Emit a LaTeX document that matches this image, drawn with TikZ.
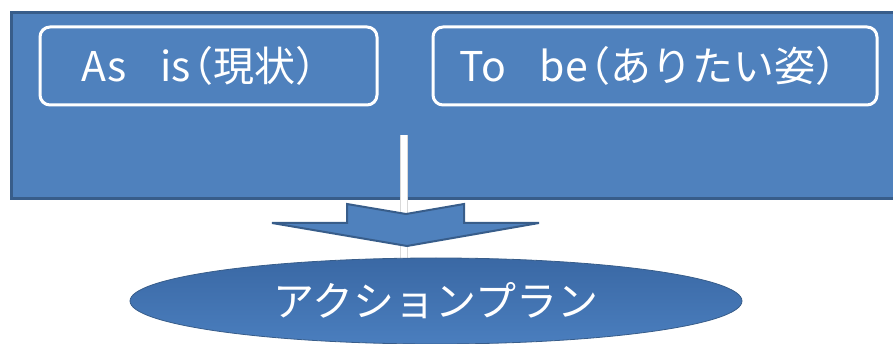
\documentclass[tikz,border=0pt]{standalone}
\usepackage{fontspec}
\setmainfont{Noto Sans CJK JP}
\usetikzlibrary{shapes.geometric}
\definecolor{fillblue}{HTML}{4F81BD}
\definecolor{edgeblue}{HTML}{385D8A}
\definecolor{elltop}{HTML}{3A68A4}
\definecolor{ellbot}{HTML}{4A7EBE}
\newcommand{\lparen}{\kern-0.45em（}
\tikzset{
  panel/.style={draw=edgeblue, fill=fillblue, line width=3pt},
  labelbox/.style={draw=white, line width=3pt, rounded corners=10pt, fill=fillblue,
    text=white, font=\fontsize{41}{50}\selectfont, inner sep=0pt, anchor=center},
  planell/.style={ellipse, inner sep=0pt, minimum width=612pt, minimum height=86pt,
    top color=elltop, bottom color=ellbot, draw=edgeblue, line width=0.8pt,
    text=white, font=\fontsize{41}{48}\selectfont},
  bigarrow/.style={fill=fillblue, draw=edgeblue, line width=2pt, line join=miter},
  whiteline/.style={draw=white, line width=5.5pt},
  greyline/.style={draw=black!15, line width=7.5pt}
}
\begin{document}
\begin{tikzpicture}[x=1pt, y=-1pt]
\useasboundingbox (0,0) rectangle (893,344);
\clip (0,0) rectangle (893,344);
% panel
\node[panel, minimum width=890pt, minimum height=186pt, inner sep=0pt, anchor=north west] (panel) at (10,11) {};
% label boxes
\node[labelbox, minimum width=337pt, minimum height=78pt] (asis) at (208.5,66) {As\hspace{33pt}is\lparen 現状）\kern-1pt};
\node[labelbox, minimum width=444pt, minimum height=78pt] (tobe) at (655,66) {To\hspace{34pt}be\lparen ありたい姿）\kern-6pt};
% connector line
\coordinate (ls) at (404,135);
\coordinate (le) at (404,262);
\draw[greyline] (ls) -- (le);
\draw[whiteline] (ls) -- (le);
% block arrow
\coordinate (a1) at (347,204);
\coordinate (a2) at (406,214);
\coordinate (a3) at (464,204);
\coordinate (a4) at (464,223);
\coordinate (a5) at (539,223);
\coordinate (a6) at (407,246);
\coordinate (a7) at (272,223);
\coordinate (a8) at (347,223);
\draw[bigarrow] (a1) -- (a2) -- (a3) -- (a4) -- (a5) -- (a6) -- (a7) -- (a8) -- cycle;
% ellipse
\node[planell] (plan) at (436,301) {アクションプラン};
\end{tikzpicture}
\end{document}
